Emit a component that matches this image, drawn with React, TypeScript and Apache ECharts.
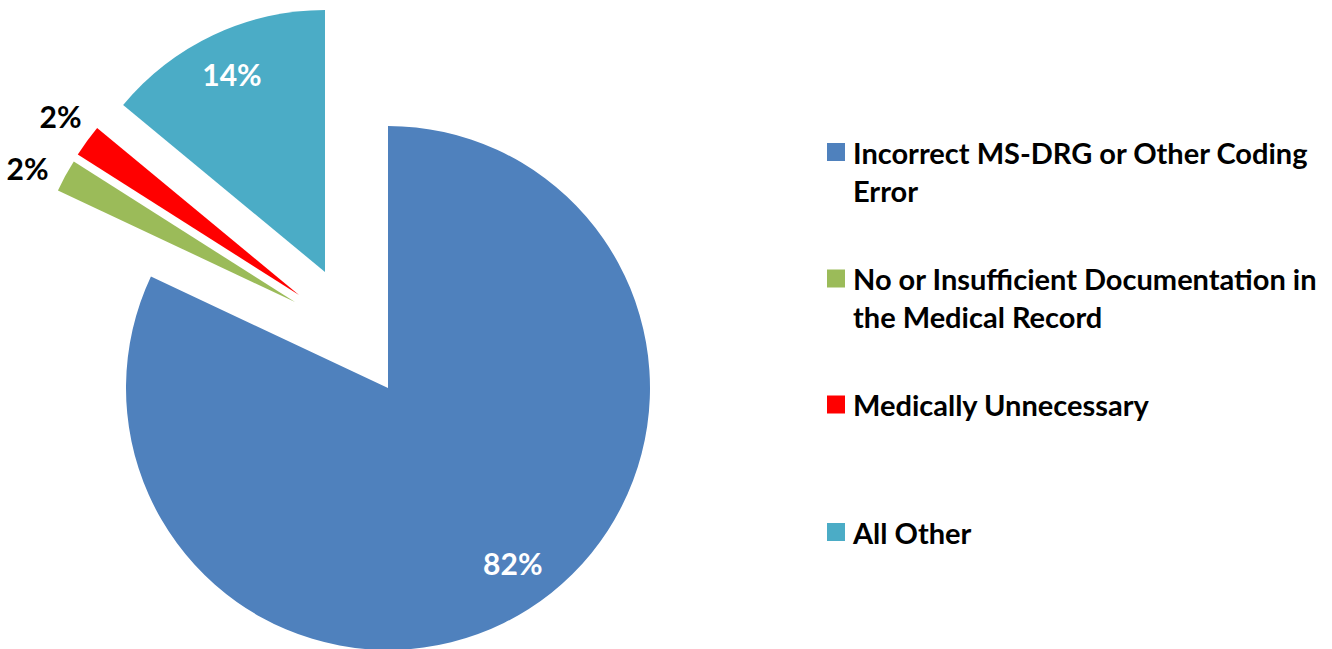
import React, { useEffect, useRef } from 'react';
import * as echarts from 'echarts';

const categories = [
  'Incorrect MS-DRG or Other Coding Error',
  'No or Insufficient Documentation in the Medical Record',
  'Medically Unnecessary',
  'All Other',
];
const legendLabels = [
  'Incorrect MS-DRG or Other Coding\nError',
  'No or Insufficient Documentation in\nthe Medical Record',
  'Medically Unnecessary',
  'All Other',
];
const values = [82, 2, 2, 14];
const colors = ['#4F81BD', '#9BBB59', '#FF0000', '#4BACC6'];

const FONT = 'Lato, "Open Sans", sans-serif';

// per-slice layout (exploded slices drawn as separate pies)
const centers: [number, number][] = [
  [388, 388],
  [295, 302],
  [299, 295],
  [325, 272],
];
const labelColors = ['#ffffff', '#000000', '#000000', '#ffffff'];
const labelShifts = [
  { dx: 53, dy: 62 },
  { dx: -150, dy: -69 },
  { dx: -130, dy: -100 },
  { dx: -36, dy: -77 },
];
const legendCenters = [152, 278.5, 404.5, 532];

export default function App() {
  const ref = useRef<HTMLDivElement>(null);
  useEffect(() => {
    if (!ref.current) return;
    const chart = echarts.init(ref.current, undefined, { renderer: 'svg' });
    const series = categories.map((_, si) => ({
      type: 'pie',
      center: centers[si],
      radius: 262,
      startAngle: 90,
      clockwise: true,
      silent: true,
      avoidLabelOverlap: false,
      emphasis: { disabled: true },
      labelLine: { show: false },
      labelLayout: labelShifts[si],
      data: categories.map((name, i) => ({
        name,
        value: values[i],
        itemStyle: i === si ? { color: colors[i] } : { color: colors[i], opacity: 0 },
        label:
          i === si
            ? {
                show: true,
                position: 'inside',
                formatter: '{d}%',
                color: labelColors[si],
                fontFamily: FONT,
                fontWeight: 'bold',
                fontSize: 30,
              }
            : { show: false },
      })),
    }));
    const legend = categories.map((name, i) => {
      const twoLine = legendLabels[i].includes('\n');
      const c = legendCenters[i];
      return {
        orient: 'vertical',
        left: 827,
        top: twoLine ? c - 57 : c - 19,
        padding: 0,
        icon: 'rect',
        itemWidth: 18,
        itemHeight: 18,
        selectedMode: false,
        data: [{ name, itemStyle: { color: colors[i], opacity: 1 } }],
        // a blank leading line keeps the first text line level with the marker
        formatter: () => (twoLine ? ' \n' + legendLabels[i] : legendLabels[i]),
        textStyle: {
          fontFamily: FONT,
          fontSize: 29,
          fontWeight: 'bold',
          color: '#000',
          lineHeight: 38,
          padding: [0, 0, 0, 3],
        },
      };
    });
    chart.setOption({
      animation: false,
      backgroundColor: '#ffffff',
      legend,
      series,
    } as any);
    return () => chart.dispose();
  }, []);
  return (
    <div
      ref={ref}
      style={{ position: 'fixed', left: 0, top: 0, width: 1332, height: 649 }}
    />
  );
}
